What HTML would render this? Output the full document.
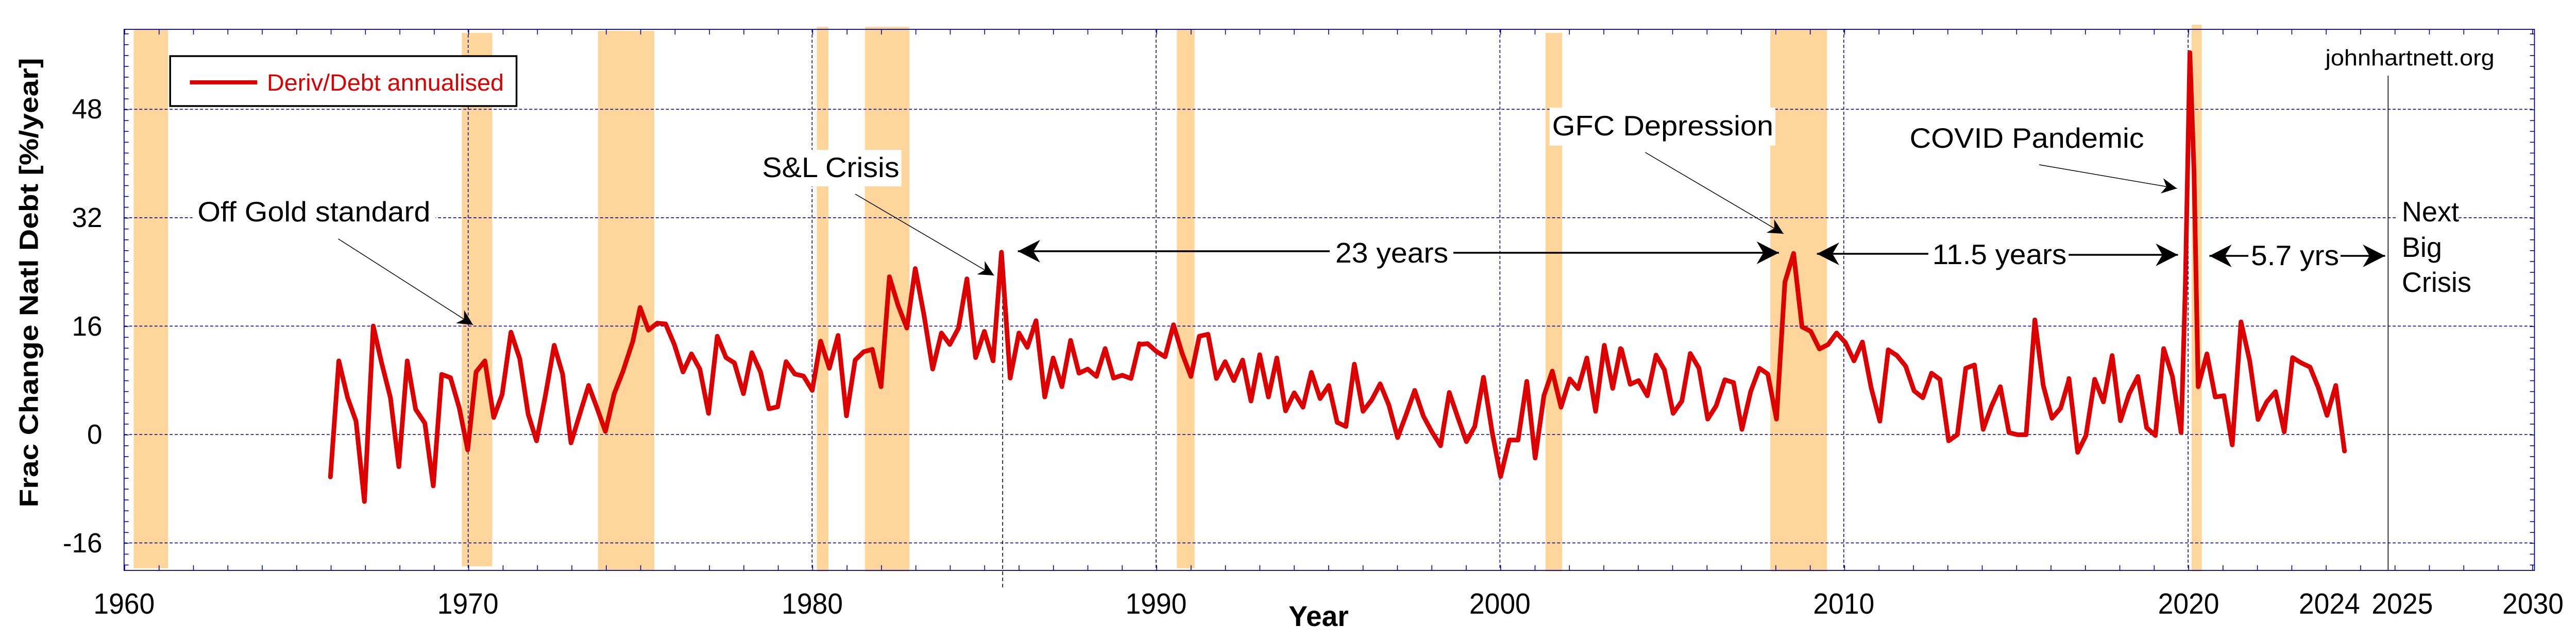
<!DOCTYPE html>
<html><head><meta charset="utf-8"><style>html,body{margin:0;padding:0;background:#fff;overflow:hidden;width:100%;height:100%}svg{display:block;width:100vw;height:100vh}</style></head>
<body>
<svg xmlns="http://www.w3.org/2000/svg" viewBox="0 0 5087 1249" preserveAspectRatio="none" font-family="Liberation Sans, Arial, sans-serif">
<defs>
<marker id="sm" viewBox="0 0 10 10" refX="10" refY="5" markerWidth="38" markerHeight="30" markerUnits="userSpaceOnUse" orient="auto"><path d="M0,0 L10,5 L0,10 L3,5 z" fill="#000"/></marker>
<marker id="bm" viewBox="0 0 10 10" refX="10" refY="5" markerWidth="52" markerHeight="44" markerUnits="userSpaceOnUse" orient="auto"><path d="M0,0 L10,5 L0,10 L3,5 z" fill="#000"/></marker>
<pattern id="xt" x="245.4" y="0" width="67.93" height="1249" patternUnits="userSpaceOnUse"><rect x="0" y="0" width="1.6" height="1249" fill="#00008b"/></pattern>
<pattern id="yt" x="0" y="844" width="5087" height="21.056" patternUnits="userSpaceOnUse"><rect x="0" y="0" width="5087" height="1.6" fill="#00008b"/></pattern>
</defs>
<rect width="5087" height="1249" fill="#fff"/>
<g fill="#fed69b">
<rect x="264" y="57" width="68" height="1047"/>
<rect x="912" y="64" width="60" height="1036"/>
<rect x="1181" y="60" width="111" height="1048"/>
<rect x="1613" y="52" width="23" height="1058"/>
<rect x="1708" y="52" width="88" height="1058"/>
<rect x="2324" y="57" width="35" height="1047"/>
<rect x="3052" y="64" width="33" height="1046"/>
<rect x="3496" y="57" width="112" height="1053"/>
<rect x="4328" y="48" width="20" height="1062"/>
</g>
<g stroke="#00008b" stroke-width="1.6" stroke-dasharray="6 4" fill="none">
<line x1="245" y1="212.3" x2="5005" y2="212.3"/>
<line x1="245" y1="422.9" x2="5005" y2="422.9"/>
<line x1="245" y1="633.4" x2="5005" y2="633.4"/>
<line x1="245" y1="844" x2="5005" y2="844"/>
<line x1="245" y1="1054.6" x2="5005" y2="1054.6"/>
<line x1="924.5" y1="57" x2="924.5" y2="1108"/>
<line x1="1603.7" y1="57" x2="1603.7" y2="1108"/>
<line x1="2283" y1="57" x2="2283" y2="1108"/>
<line x1="2962" y1="57" x2="2962" y2="1108"/>
<line x1="3641" y1="57" x2="3641" y2="1108"/>
<line x1="4321" y1="57" x2="4321" y2="1108"/>
</g>
<rect x="245" y="57" width="4760" height="10" fill="url(#xt)"/>
<rect x="245" y="1098" width="4760" height="10" fill="url(#xt)"/>
<rect x="245" y="57" width="9" height="1051" fill="url(#yt)"/>
<rect x="4996" y="57" width="9" height="1051" fill="url(#yt)"/>
<rect x="245" y="57" width="4760" height="1051" fill="none" stroke="#00008b" stroke-width="1.8"/>
<line x1="1980" y1="510" x2="1980" y2="1143" stroke="#000" stroke-width="1.6" stroke-dasharray="7 5"/>
<line x1="4716" y1="147" x2="4716" y2="1108" stroke="#000" stroke-width="1.6"/>
<g fill="none" stroke="#dd0000" stroke-width="9" stroke-linejoin="round" stroke-linecap="round">
<polyline vector-effect="non-scaling-stroke" transform="translate(0,0) scale(0.82908,0.79656)" points="787,1163 807,880 828,970 848,1027 868,1223 889,795 909,885 930,970 950,1138 970,880 990,998 1012,1032 1032,1185 1052,913 1073,921 1094,995 1114,1097 1134,907 1155,880 1176,1018 1196,962 1217,810 1238,875 1258,1010 1278,1075 1299,965 1320,842 1340,912 1360,1080 1381,1010 1402,940 1422,995 1442,1052 1463,960 1484,905 1508,830"/>
<polyline vector-effect="non-scaling-stroke" transform="translate(1250,0) scale(0.63776,0.79656)" points="0,830 22,750 48,805 75,788 101,790 128,840 155,907 181,863 207,900 234,1008 261,820 288,872 314,885 342,960 368,860 395,907 421,997 448,992 474,882 501,912 528,917 555,952 581,832 608,898 635,818 661,1014 688,878 714,858 741,852 768,943 794,675 821,745 848,800 874,655 901,768 928,900 955,812 981,840 1008,800 1034,680 1061,872 1088,808 1115,880 1141,615 1168,922 1195,812 1221,847 1248,782 1275,968 1301,873 1328,943 1355,830 1381,910 1408,900 1435,918 1462,850 1488,922 1515,915 1542,923 1568,838"/>
<polyline vector-effect="non-scaling-stroke" transform="translate(2200,0) scale(0.63776,0.79656)" points="78,840 104,838 131,857 158,870 184,792 211,862 238,918 264,820 291,815 317,923 344,882 371,928 398,878 424,978 451,865 478,968 504,873 531,1002 558,958 585,993 611,908 638,972 665,940 691,1030 718,1040 744,888 771,1003 798,975 824,936 851,988 878,1067 904,1012 931,952 958,1015 984,1053 1011,1087 1038,957 1064,1017 1091,1077 1117,1040 1144,920 1171,1055 1197,1162 1224,1073 1251,1073 1278,930 1304,1117 1331,965 1357,905 1384,993 1411,924 1437,948 1464,873 1491,1003 1518,842 1544,947 1568,850"/>
<polyline vector-effect="non-scaling-stroke" transform="translate(3100,0) scale(0.63776,0.79656)" points="160,852 187,937 213,928 240,965 267,866 293,902 320,1008 347,978 373,862 400,898 427,1022 453,990 480,926 507,933 533,1047 560,955 587,898 613,912 640,1022 666,688 693,618 719,797 746,808 773,851 800,840 826,812 853,835 880,880 906,834 933,945 960,1027 986,853 1013,867 1040,893 1066,953 1093,970 1120,910 1146,925 1173,1075 1200,1060 1226,898 1253,890 1280,1047 1306,990 1333,943 1360,1055 1386,1060 1413,1060 1440,780 1466,940 1493,1020 1520,995 1546,925"/>
<polyline vector-effect="non-scaling-stroke" transform="translate(3800,0) scale(0.82079,0.79656)" points="348,923 369,1103 389,1062 410,925 431,980 452,867 472,1026 493,960 514,918 535,1043 556,1062 576,850 597,918 618,1055 628,700 639,128 649,420 659,943 680,863 700,968 721,965 741,1085 762,785 783,880 803,1023 824,980 845,955 866,1053 886,872 907,885 928,895 948,945 969,1013 990,940 1011,1100"/>
</g>
<rect x="336" y="109" width="684" height="97" fill="#fff" stroke="#000" stroke-width="3.5"/>
<line x1="375" y1="160" x2="508" y2="160" stroke="#dd0000" stroke-width="8"/>
<text x="527" y="176" font-size="45" fill="#dd0000" textLength="468" lengthAdjust="spacingAndGlyphs">Deriv/Debt annualised</text>
<g font-size="54" fill="#000" text-anchor="end">
<text x="202" y="230">48</text>
<text x="202" y="441">32</text>
<text x="202" y="652">16</text>
<text x="202" y="862">0</text>
<text x="202" y="1073">-16</text>
</g>
<g font-size="57" fill="#000" text-anchor="middle">
<text x="245" y="1192" textLength="121" lengthAdjust="spacingAndGlyphs">1960</text>
<text x="924" y="1192" textLength="121" lengthAdjust="spacingAndGlyphs">1970</text>
<text x="1604" y="1192" textLength="121" lengthAdjust="spacingAndGlyphs">1980</text>
<text x="2283" y="1192" textLength="121" lengthAdjust="spacingAndGlyphs">1990</text>
<text x="2962" y="1192" textLength="121" lengthAdjust="spacingAndGlyphs">2000</text>
<text x="3641" y="1192" textLength="121" lengthAdjust="spacingAndGlyphs">2010</text>
<text x="4322" y="1192" textLength="121" lengthAdjust="spacingAndGlyphs">2020</text>
<text x="4600" y="1192" textLength="121" lengthAdjust="spacingAndGlyphs">2024</text>
<text x="4744" y="1192" textLength="121" lengthAdjust="spacingAndGlyphs">2025</text>
<text x="5002" y="1192" textLength="121" lengthAdjust="spacingAndGlyphs">2030</text>
</g>
<text x="2604" y="1216" font-size="56" font-weight="bold" text-anchor="middle">Year</text>
<text transform="translate(75,549) rotate(-90)" font-size="52" font-weight="bold" text-anchor="middle" textLength="873" lengthAdjust="spacingAndGlyphs">Frac Change Natl Debt [%/year]</text>
<g font-size="55" fill="#000">
<rect x="380" y="385" width="480" height="60" fill="#fff"/>
<text x="390" y="430" textLength="460" lengthAdjust="spacingAndGlyphs">Off Gold standard</text>
<rect x="1500" y="291" width="280" height="71" fill="#fff"/>
<text x="1505" y="344" textLength="271" lengthAdjust="spacingAndGlyphs">S&amp;L Crisis</text>
<rect x="3060" y="209" width="446" height="74" fill="#fff"/>
<text x="3065" y="263" textLength="437" lengthAdjust="spacingAndGlyphs">GFC Depression</text>
<text x="3771" y="287" textLength="463" lengthAdjust="spacingAndGlyphs">COVID Pandemic</text>
<text x="4592" y="127" font-size="44" textLength="334" lengthAdjust="spacingAndGlyphs">johnhartnett.org</text>
<rect x="4735" y="380" width="120" height="200" fill="#fff"/>
<text x="4743" y="430">Next</text>
<text x="4743" y="499">Big</text>
<text x="4743" y="567">Crisis</text>
</g>
<g stroke="#000" stroke-width="1.5" fill="none">
<line x1="668" y1="464" x2="934" y2="631" marker-end="url(#sm)"/>
<line x1="1689" y1="377" x2="1963" y2="535" marker-end="url(#sm)"/>
<line x1="3249" y1="296" x2="3522" y2="454" marker-end="url(#sm)"/>
<line x1="4027" y1="320" x2="4299" y2="366" marker-end="url(#sm)"/>
</g>
<g stroke="#000" stroke-width="3.5" fill="none">
<line x1="2626" y1="488" x2="2010" y2="488" marker-end="url(#bm)"/>
<line x1="2870" y1="491" x2="3513" y2="491" marker-end="url(#bm)"/>
<line x1="3808" y1="493" x2="3588" y2="493" marker-end="url(#bm)"/>
<line x1="4085" y1="495" x2="4301" y2="495" marker-end="url(#bm)"/>
<line x1="4440" y1="497" x2="4363" y2="497" marker-end="url(#bm)"/>
<line x1="4622" y1="497" x2="4710" y2="497" marker-end="url(#bm)"/>
</g>
<g font-size="55" fill="#000">
<text x="2637" y="510" textLength="223" lengthAdjust="spacingAndGlyphs">23 years</text>
<text x="3816" y="513" textLength="265" lengthAdjust="spacingAndGlyphs">11.5 years</text>
<text x="4445" y="515" textLength="174" lengthAdjust="spacingAndGlyphs">5.7 yrs</text>
</g>
</svg>
</body></html>
